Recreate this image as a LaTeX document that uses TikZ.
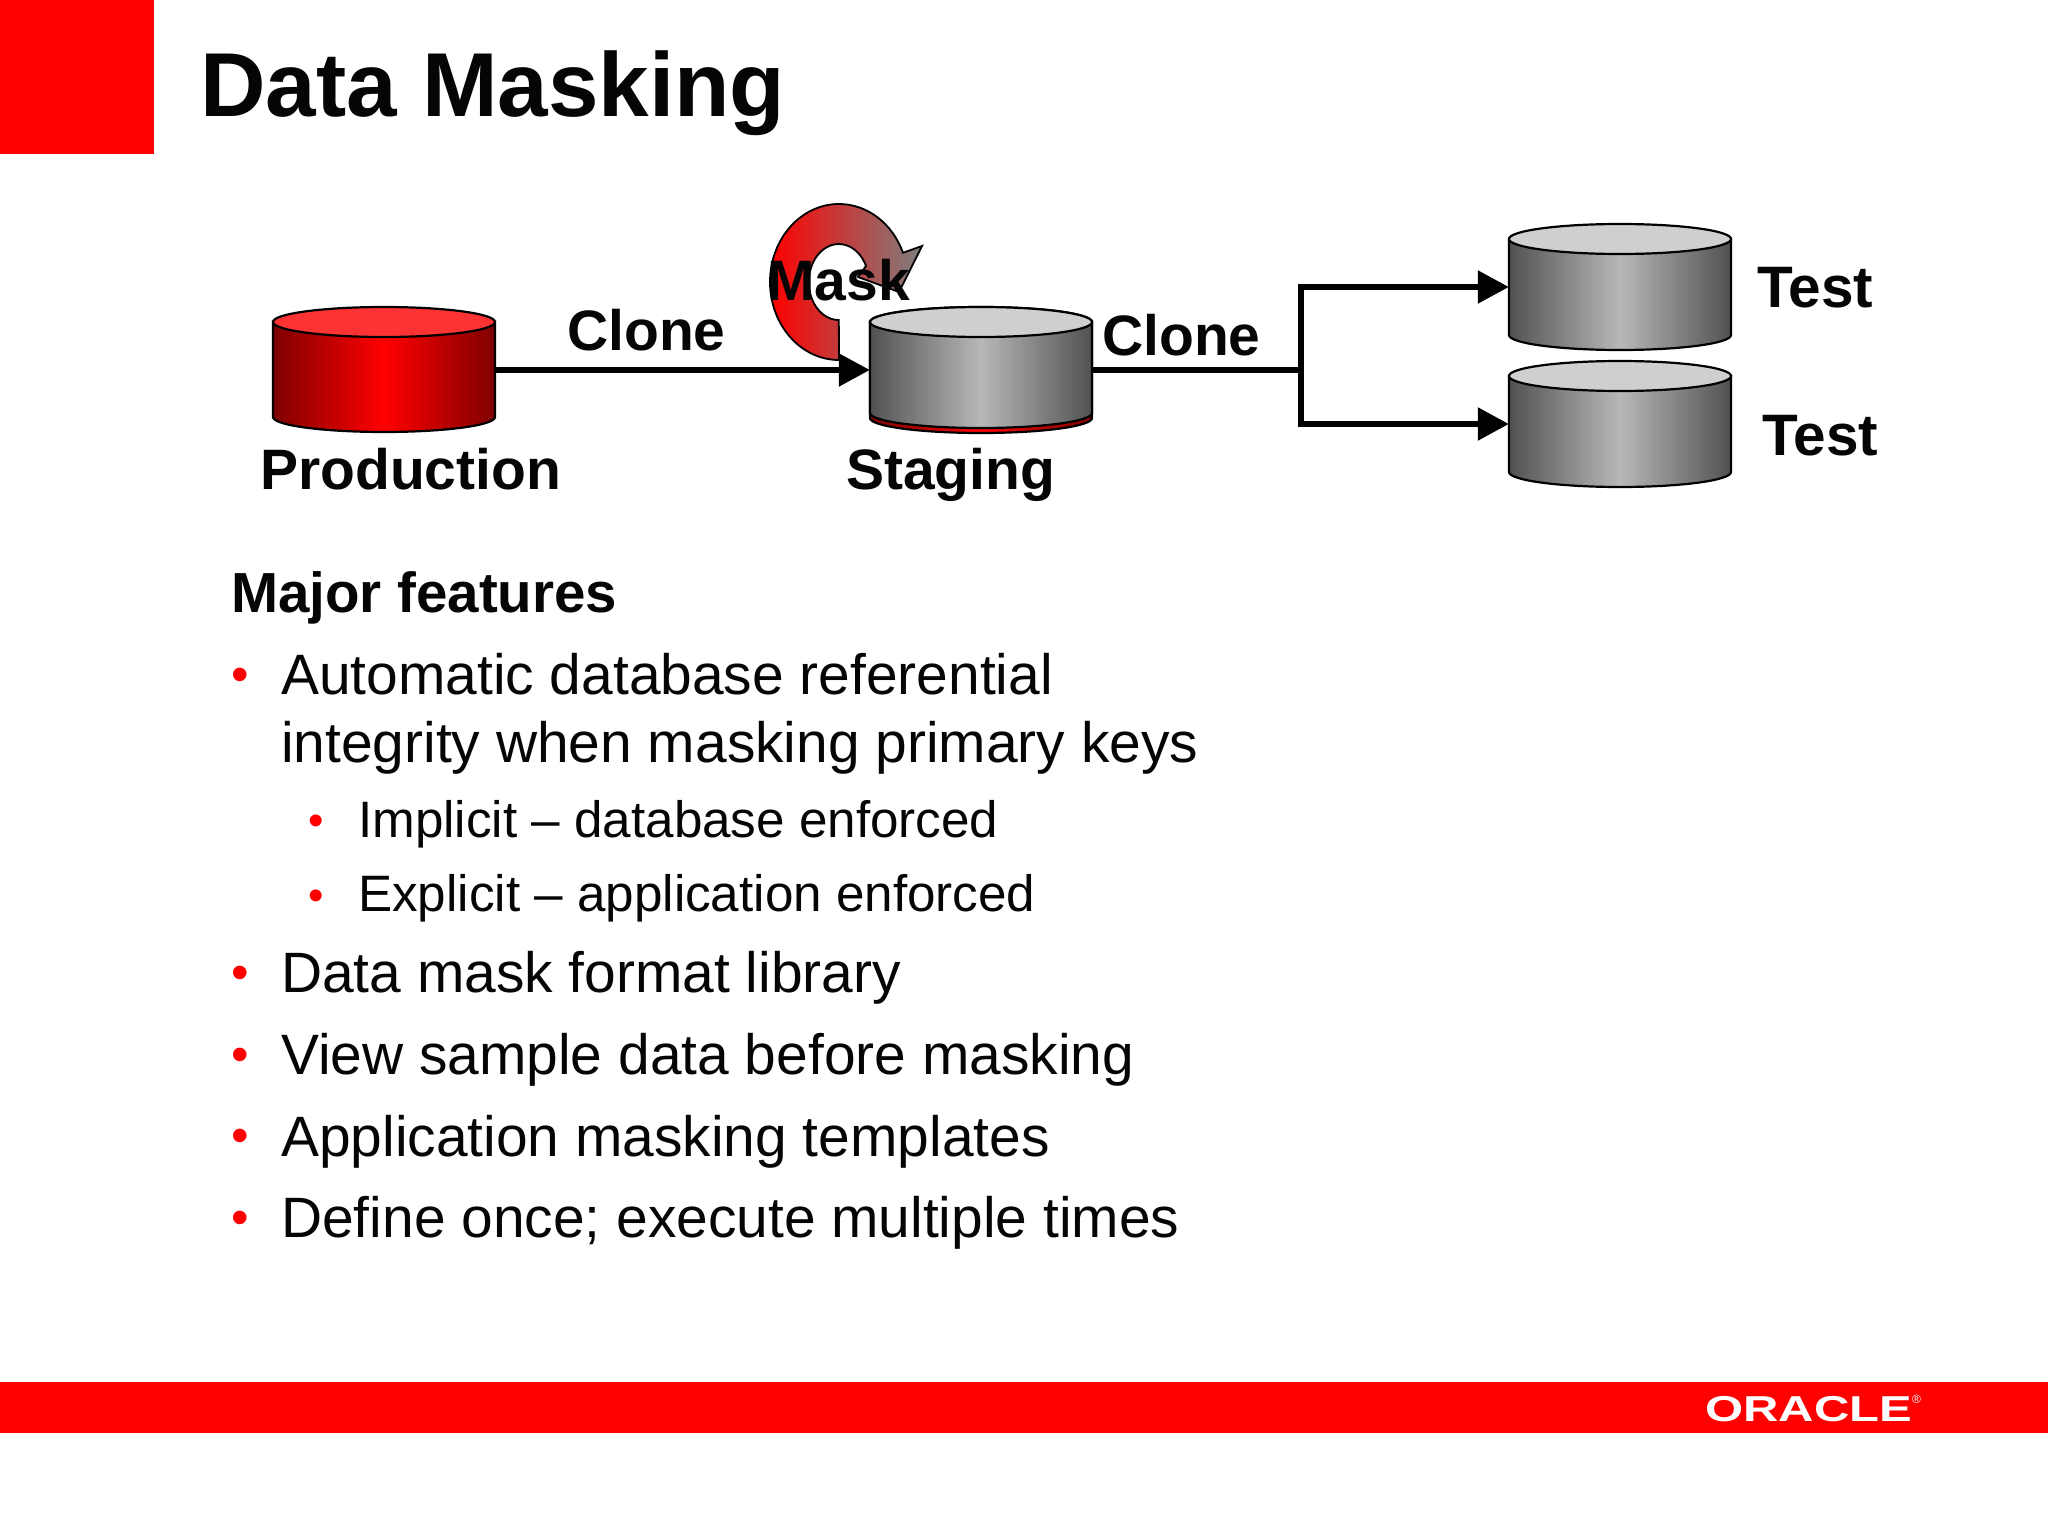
\documentclass[tikz,border=0pt]{standalone}
\usepackage{fontspec}
\setmainfont{Liberation Sans}
\usetikzlibrary{arrows.meta}
\definecolor{oraclered}{RGB}{255,0,0}
\definecolor{inkblack}{RGB}{5,5,5}
\tikzset{
  titletext/.style={anchor=base west, inner sep=0pt, text=inkblack, font=\bfseries\fontsize{90.8}{96}\selectfont},
  labeltext/.style={anchor=base west, inner sep=0pt, text=inkblack, font=\bfseries\fontsize{57}{60}\selectfont},
  headtext/.style={anchor=base west, inner sep=0pt, text=inkblack, font=\bfseries\fontsize{56.5}{60}\selectfont},
  testtext/.style={anchor=base west, inner sep=0pt, text=inkblack, font=\bfseries\fontsize{58.5}{60}\selectfont},
  bodytext/.style={anchor=base west, inner sep=0pt, text=inkblack, font=\fontsize{56.9}{60}\selectfont},
  subtext/.style={anchor=base west, inner sep=0pt, text=inkblack, font=\fontsize{51.2}{54}\selectfont},
  bodydot/.style={anchor=base west, inner sep=0pt, text=oraclered, font=\fontsize{50}{54}\selectfont},
  subdot/.style={anchor=base west, inner sep=0pt, text=oraclered, font=\fontsize{44}{48}\selectfont},
  reddisk/.style={left color=red!50!black, right color=red!50!black, middle color=oraclered},
  redtop/.style={fill=red!80!white},
  greydisk/.style={left color=black!68, right color=black!68, middle color=black!28},
  greytop/.style={fill=black!19},
  flowline/.style={draw=black, line width=5.5pt},
  flowarrow/.style={flowline, -{Triangle[length=31pt,width=32pt]}}
}
% #1 colour, #2 centre x, #3 centre y of the lid, #4 side height, #5 name
\newcommand{\dbdisk}[5]{
  \draw [#1disk, line width=2.2pt] ({#2-111},#3) -- ({#2-111},{#3-#4})
    arc [start angle=180, end angle=360, x radius=111pt, y radius=15pt]
    -- ({#2+111},#3) -- cycle;
  \draw [#1top, line width=2.2pt] (#2,#3) ellipse [x radius=111pt, y radius=15pt];
  \node [minimum width=222pt, minimum height=96pt, inner sep=0pt] (#5) at (#2,{#3-48}) {};
}
\begin{document}
\begin{tikzpicture}[x=1pt,y=1pt]
  \useasboundingbox (0,0) rectangle (2048,-1536);
  \fill [oraclered] (0,0) rectangle (154,-154);
  \fill [oraclered] (0,-1382) rectangle (2048,-1433);
  \node [titletext] (title) at (200,-117) {Data Masking};

  % mask arrow
  \draw [left color=oraclered, right color=black!50, line width=1.8pt]
    (839,-360) arc [start angle=270, end angle=22, x radius=69pt, y radius=78pt]
    -- (922,-246) -- (899,-292) -- (858,-277) -- (866,-266)
    arc [start angle=25, end angle=270, x radius=30pt, y radius=38pt]
    -- cycle;

  % disks
  \dbdisk{red}{384}{-322}{95}{production}
  \dbdisk{red}{981}{-322}{96}{stagingbase}
  \dbdisk{grey}{981}{-322}{91}{staging}
  \dbdisk{grey}{1620}{-239}{96}{testa}
  \dbdisk{grey}{1620}{-376}{96}{testb}

  % connectors
  \coordinate (branch) at (1301,-370);
  \draw [flowarrow] (production.east) -- (staging.west);
  \draw [flowline] (staging.east) -- (branch);
  \draw [flowarrow] (branch) |- (testa.west);
  \draw [flowarrow] (branch) |- (testb.west);

  % diagram labels
  \node [labeltext] (masklabel) at (767,-300) {Mask};
  \node [labeltext] (clonea) at (567,-350) {Clone};
  \node [labeltext] (cloneb) at (1102,-355) {Clone};
  \node [labeltext] (prodlabel) at (260,-489) {Production};
  \node [labeltext] (staglabel) at (846,-489) {Staging};
  \node [testtext] (testalabel) at (1757,-307) {Test};
  \node [testtext] (testblabel) at (1762,-455) {Test};

  % text block
  \node [headtext] (features) at (231,-612) {Major features};
  \node [bodydot] (dota) at (231,-691) {•};
  \node [bodytext] (itema) at (281,-694) {Automatic database referential};
  \node [bodytext] (itemb) at (281,-762) {integrity when masking primary keys};
  \node [subdot] (dotb) at (308,-835) {•};
  \node [subtext] (subitema) at (358,-837) {Implicit – database enforced};
  \node [subdot] (dotc) at (308,-910) {•};
  \node [subtext] (subitemb) at (358,-911) {Explicit – application enforced};
  \node [bodydot] (dotd) at (231,-989) {•};
  \node [bodytext] (itemc) at (281,-992) {Data mask format library};
  \node [bodydot] (dote) at (231,-1071) {•};
  \node [bodytext] (itemd) at (281,-1074) {View sample data before masking};
  \node [bodydot] (dotf) at (231,-1152) {•};
  \node [bodytext] (iteme) at (281,-1156) {Application masking templates};
  \node [bodydot] (dotg) at (231,-1234) {•};
  \node [bodytext] (itemf) at (281,-1237) {Define once; execute multiple times};

  % logo
  \node [anchor=base west, inner sep=0pt, text=white, font=\bfseries\fontsize{36}{40}\selectfont] (logo)
    at (1705,-1421) {\scalebox{1.36}[1]{ORACLE}};
  \node [anchor=base west, inner sep=0pt, text=white, font=\fontsize{12}{14}\selectfont] (logomark)
    at (1912,-1403) {®};
\end{tikzpicture}
\end{document}
